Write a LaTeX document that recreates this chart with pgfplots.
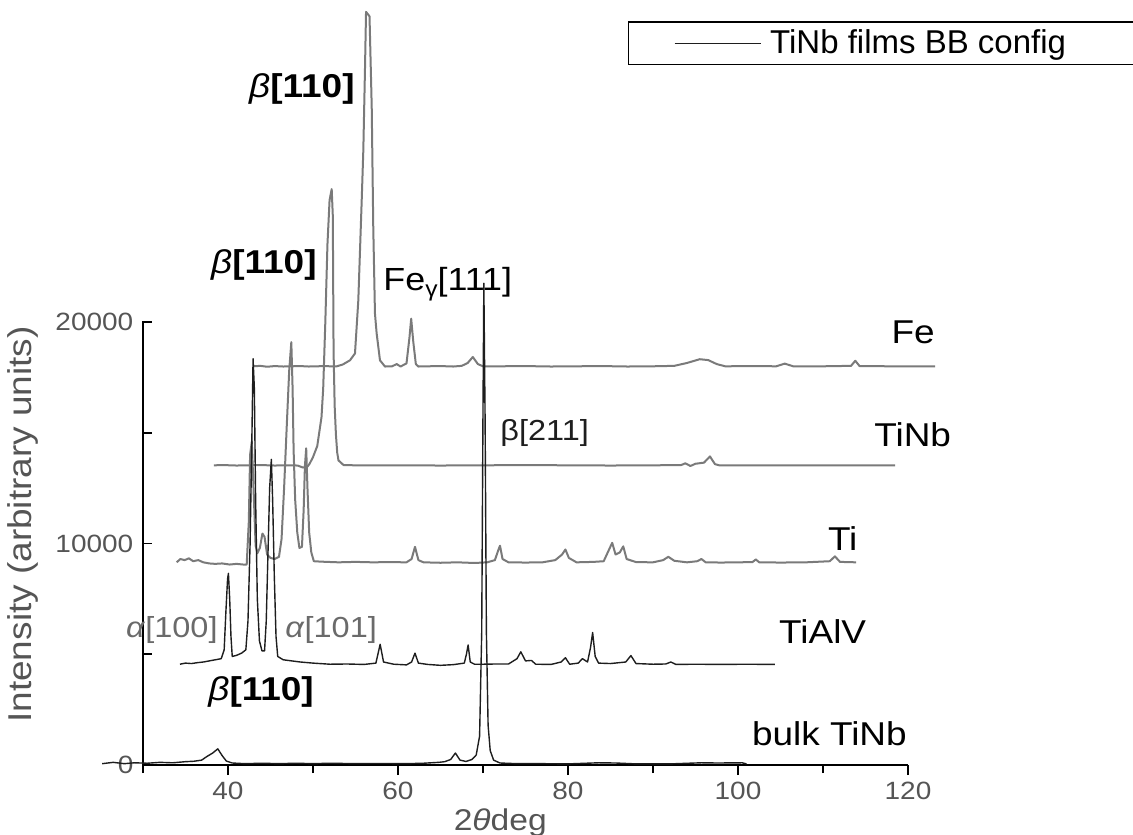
\documentclass[border=0pt]{standalone}
\usepackage{fontspec}
\setmainfont{Liberation Sans}[FakeStretch=1.12]
\newfontfamily\legfont{Liberation Sans}
\usepackage{pgfplots}
\pgfplotsset{compat=1.18}
\definecolor{curvegrey}{HTML}{7A7A7A}
\definecolor{tickgrey}{HTML}{555555}
\definecolor{darkline}{HTML}{1E1E1E}
\definecolor{lblgrey}{HTML}{6A6A6A}

\begin{document}
\begin{tikzpicture}
\begin{axis}[
  scale only axis, width=382.5pt, height=221.5pt,
  xmin=30, xmax=120, ymin=0, ymax=20000,
  axis lines*=left,
  axis line style={line width=0.8pt, black},
  clip=false,
  tick align=outside,
  xtick={40,60,80,100,120}, minor xtick={30,50,70,90,110},
  ytick={0,10000,20000}, minor ytick={5000,15000},
  major tick length=5pt, minor tick length=4pt,
  every tick/.style={black, line width=0.8pt},
  ytick style={xshift=4.5pt},
  scaled y ticks=false,
  /pgf/number format/1000 sep={},
  /pgf/number format/assume math mode=true,
  tick label style={font=\fontsize{12.5}{14}\selectfont, text=tickgrey},
  yticklabel style={xshift=3.7pt},
  xlabel={2\textit{θ}deg},
  xlabel style={at={(axis description cs:0.467,0)}, anchor=base, yshift=-32.5pt, font=\fontsize{15}{17}\selectfont, text=tickgrey},
  ylabel={Intensity (arbitrary units)},
  ylabel style={at={(axis description cs:-0.157,0.543)}, anchor=center, font=\fontsize{16.5}{18}\selectfont, text=tickgrey},
  legend style={at={(0.6335,1.6795)}, anchor=north west, draw=black, line width=0.8pt,
    inner xsep=22.7pt, inner ysep=2pt, font=\legfont\fontsize{16.5}{18}\selectfont,
    /tikz/every odd column/.append style={column sep=2.5pt}},
  legend image code/.code={\draw[darkline, line width=0.7pt] (0pt,0pt) -- (43pt,0pt);},
  every axis plot/.append style={line join=round, no marks},
]

% Fe (TiNb film on Fe)
\addplot[curvegrey, line width=1pt, forget plot] coordinates {
(43.0,18000) (43.8,18020) (44.6,17980) (45.5,18010) (46.5,17990) (47.5,18000) (48.5,18010)
(49.5,17990) (50.5,18000) (51.5,18010) (52.4,17990) (52.8,18000) (53.5,18080) (54.35,18270)
(54.94,18580) (55.33,20970) (55.73,25480) (55.92,27740) (56.12,31490) (56.24,34000) (56.65,33800)
(56.91,29690) (57.09,24280) (57.29,20380) (57.49,19480) (57.88,18270) (58.47,17990) (59.3,18000)
(59.85,18100) (60.3,17990) (61.0,18130) (61.35,19300) (61.55,20150) (61.8,19100) (62.1,18100)
(62.4,17990) (63.5,18000) (65,18010) (66.5,17990) (67.5,18020) (68.2,18150) (68.8,18420)
(69.4,18100) (70.0,18000) (72,18000) (75,18010) (78,17990) (81,18000) (84,18010) (87,17990)
(90,18000) (92.5,18020) (94.0,18150) (95.5,18320) (96.5,18280) (97.5,18100) (98.5,18000)
(102,18010) (104.5,18000) (105.5,18120) (106.5,18000) (110,18000) (113.3,18020) (113.8,18250)
(114.3,18010) (118,18000) (123.2,18000)
};

% TiNb substrate
\addplot[curvegrey, line width=1pt, forget plot] coordinates {
(38.35,13530) (39.5,13540) (41,13520) (42.5,13530) (44,13540) (45.5,13520) (47,13530)
(48.2,13520) (48.8,13430) (49.3,13450) (49.6,13600) (50.0,13900) (50.5,14400) (51.0,15700)
(51.2,17000) (51.45,20000) (51.7,23500) (51.95,25500) (52.2,26000) (52.33,24800) (52.42,18700)
(52.55,16200) (52.7,14900) (52.85,14100) (53.0,13750) (53.6,13540) (55,13530) (60,13530)
(65,13520) (70,13530) (75,13540) (80,13530) (85,13520) (90,13530) (93.3,13540) (93.8,13620)
(94.4,13500) (95.0,13600) (96.0,13650) (96.7,13930) (97.3,13580) (97.8,13530) (100,13530)
(105,13530) (110,13530) (115,13530) (118.5,13530)
};

% Ti substrate
\addplot[curvegrey, line width=1pt, forget plot] coordinates {
(33.96,9150) (34.4,9300) (34.9,9250) (35.4,9330) (35.9,9200) (36.5,9250) (37.1,9150)
(37.8,9100) (38.5,9080) (39.3,9100) (40.2,9050) (41.0,9080) (41.8,9050) (42.2,9050)
(42.45,11000) (42.6,14000) (42.8,14600) (43.05,12000) (43.25,9900) (43.45,9560) (43.75,9800)
(44.05,10450) (44.3,10300) (44.6,9500) (45.0,9350) (45.5,9300) (46.0,9400) (46.3,10200)
(46.6,12500) (46.9,15200) (47.2,17800) (47.45,19090) (47.6,17000) (47.72,14200) (47.9,12000)
(48.15,10500) (48.4,9800) (48.7,9850) (48.9,11500) (49.05,13500) (49.2,14300) (49.35,12500)
(49.55,10500) (49.8,9600) (50.1,9200) (51,9180) (53,9150) (55,9170) (57,9150) (59,9160)
(61,9150) (61.6,9300) (62.0,9850) (62.4,9250) (63,9150) (65,9130) (67,9150) (69,9120)
(70.5,9150) (71.4,9250) (71.8,9700) (72.0,9900) (72.3,9300) (73,9150) (75,9140) (77,9150)
(78.5,9250) (79.3,9500) (79.7,9730) (80.1,9350) (81,9150) (83,9170) (84.2,9200) (84.8,9700)
(85.2,10030) (85.6,9500) (86.1,9600) (86.5,9870) (86.9,9300) (88,9160) (90,9150) (91.2,9250)
(91.8,9400) (92.5,9220) (94,9150) (95.2,9200) (95.7,9300) (96.2,9150) (98,9140) (100,9150)
(101.7,9160) (102.1,9280) (102.5,9150) (105,9140) (108,9150) (110.8,9200) (111.4,9420)
(112,9170) (113.9,9150)
};

% TiAlV substrate
\addplot[darkline, line width=0.7pt, forget plot] coordinates {
(34.35,4550) (35,4600) (35.7,4580) (36.4,4620) (37.1,4650) (37.8,4700) (38.5,4750) (39.2,4800)
(39.55,5200) (39.75,6900) (39.95,8400) (40.05,8650) (40.2,7500) (40.35,5800) (40.5,4900)
(41.0,4950) (41.6,5050) (42.1,5200) (42.35,6500) (42.6,10000) (42.8,14500) (42.95,18340)
(43.1,17000) (43.25,12000) (43.45,7500) (43.7,5600) (44.0,5150) (44.3,5150) (44.5,6500)
(44.7,9500) (44.9,12500) (45.1,13800) (45.25,12000) (45.45,8500) (45.65,5800) (45.85,4900)
(46.5,4750) (47.5,4700) (48.5,4650) (50,4600) (52,4550) (54,4560) (56,4540) (57.4,4600)
(57.9,5450) (58.3,4650) (59.5,4550) (61.0,4520) (61.6,4650) (62.0,5050) (62.4,4600)
(63.5,4540) (65,4500) (66.5,4530) (67.8,4600) (68.05,5000) (68.25,5420) (68.5,4650) (69,4550)
(70,4550) (71.5,4560) (73,4560) (74.0,4800) (74.45,5110) (75.0,4700) (75.7,4720) (76.2,4550)
(78,4540) (79.2,4650) (79.7,4840) (80.2,4550) (81.2,4600) (81.7,4800) (82.3,4650) (82.65,5300)
(82.9,5980) (83.2,4900) (83.6,4600) (85,4580) (86.8,4650) (87.4,4940) (88,4580) (90,4550)
(91.5,4560) (92.1,4650) (92.7,4540) (95,4550) (98,4540) (101,4550) (104.35,4540)
};

% bulk TiNb
\addplot[darkline, line width=0.7pt] coordinates {
(25.2,60) (26.5,120) (27.8,60) (29,100) (30.5,80) (32,120) (33.5,100) (35,150) (36,170)
(36.9,220) (37.5,380) (38.2,540) (38.8,730) (39.3,430) (39.8,180) (40.5,90) (42,60) (44,80)
(46,60) (48,80) (50,60) (52,80) (55,60) (58,70) (61,60) (63,80) (64.8,120) (65.5,150)
(66.2,250) (66.75,540) (67.3,220) (68,160) (68.7,250) (69.2,450) (69.6,1300) (69.85,6000)
(70.0,16000) (70.1,21750) (70.25,15500) (70.4,6000) (70.6,1800) (70.85,650) (71.25,220)
(72,90) (74,60) (77,60) (80,50) (83.6,100) (85.6,90) (88,50) (92,50) (95.7,100) (97.6,90)
(100.5,100) (101,50)
};
\addlegendentry{TiNb films BB config\kern24pt}

% peak annotations
\node[anchor=base east, inner sep=0pt, font=\fontsize{16.5}{18}\selectfont, text=black]
  at (axis cs:54.94,30130) {\textit{β}\textbf{[110]}};
\node[anchor=base east, inner sep=0pt, font=\fontsize{16.5}{18}\selectfont, text=black]
  at (axis cs:50.47,22190) {\textit{β}\textbf{[110]}};
\node[anchor=base west, inner sep=0pt, font=\fontsize{16}{18}\selectfont, text=black]
  at (axis cs:58.24,21420) {Fe\raisebox{-0.35ex}{\fontsize{11}{12}\selectfont γ}[111]};
\node[anchor=base west, inner sep=0pt, font=\fontsize{14.5}{16}\selectfont, text=darkline]
  at (axis cs:72.0,14660) {β[211]};
\node[anchor=base east, inner sep=0pt, font=\fontsize{14.5}{16}\selectfont, text=lblgrey]
  at (axis cs:38.82,5770) {\textit{α}[100]};
\node[anchor=base west, inner sep=0pt, font=\fontsize{14.5}{16}\selectfont, text=lblgrey]
  at (axis cs:46.7,5770) {\textit{α}[101]};
\node[anchor=base west, inner sep=0pt, font=\fontsize{16.5}{18}\selectfont, text=black]
  at (axis cs:37.65,2930) {\textit{β}\textbf{[110]}};

% curve labels
\node[anchor=base east, inner sep=0pt, font=\fontsize{16.5}{18}\selectfont, text=black]
  at (axis cs:123.2,19030) {Fe};
\node[anchor=base west, inner sep=0pt, font=\fontsize{16.5}{18}\selectfont, text=black]
  at (axis cs:116.0,14390) {TiNb};
\node[anchor=base east, inner sep=0pt, font=\fontsize{16.5}{18}\selectfont, text=black]
  at (axis cs:114.1,9700) {Ti};
\node[anchor=base west, inner sep=0pt, font=\fontsize{16.5}{18}\selectfont, text=black]
  at (axis cs:104.8,5500) {TiAlV};
\node[anchor=base east, inner sep=0pt, font=\fontsize{16.5}{18}\selectfont, text=black]
  at (axis cs:119.9,860) {bulk TiNb};
\end{axis}
\pgfresetboundingbox
\path[use as bounding box] (-71.5pt,-34.5pt) rectangle (495pt,382.5pt);
\end{tikzpicture}
\end{document}
